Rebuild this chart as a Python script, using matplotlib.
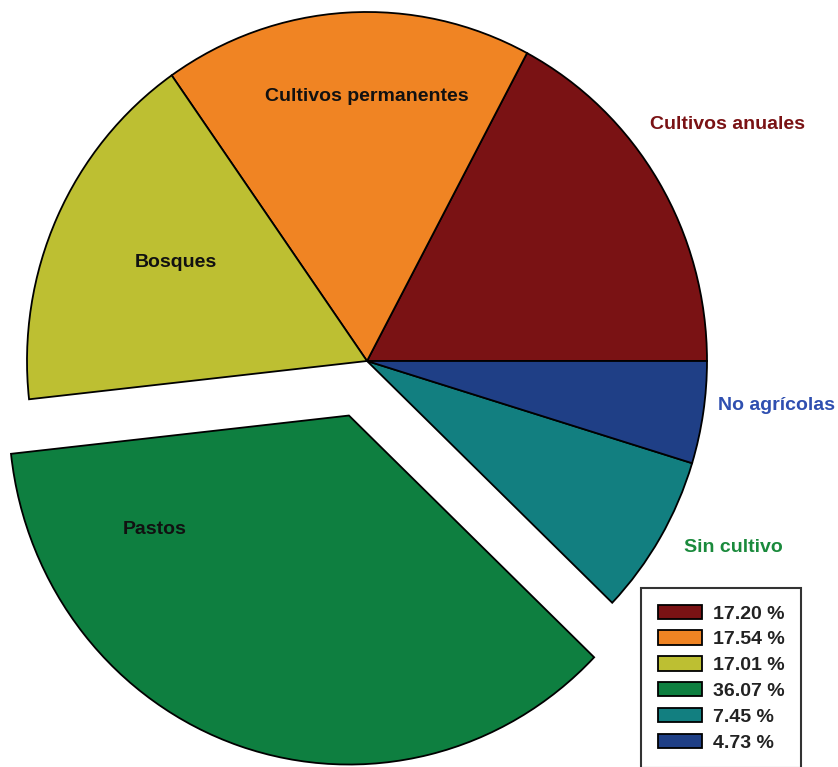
import matplotlib
matplotlib.use("Agg")
import matplotlib.pyplot as plt

categories = ["Cultivos anuales", "Cultivos permanentes", "Bosques", "Pastos", "Sin cultivo", "No agrícolas"]
shares = [17.20, 17.54, 17.01, 36.07, 7.45, 4.73]
colors = ["#7a1214", "#f08423", "#bdbf32", "#0e7f40", "#127f80", "#1f3f86"]
explode = [0, 0, 0, 0.165, 0, 0]
legend_labels = ["17.20 %", "17.54 %", "17.01 %", "36.07 %", "7.45 %", "4.73 %"]

plt.rcParams['font.family'] = ['Liberation Sans', 'DejaVu Sans']

W, H = 838, 767
cx, cy = 367, 361      # pie centre in pixels
rx, ry = 340, 349      # pixel radii (source image is a bit stretched vertically)

fig = plt.figure(figsize=(W / 100, H / 100), dpi=100)
ax = fig.add_axes([0, 0, 1, 1])

wedges, _ = ax.pie(shares, colors=colors, explode=explode, startangle=0,
                   counterclock=True,
                   wedgeprops=dict(edgecolor="black", linewidth=1.3))

ax.set_aspect("auto")
ax.set_xlim(-cx / rx, (W - cx) / rx)
ax.set_ylim((cy - H) / ry, cy / ry)
ax.axis("off")


def px(x, y):
    return (x - cx) / rx, (cy - y) / ry


# label positions in pixels, label colours
label_pos = [(727, 125), (367, 97), (176, 263), (155, 530), (733, 547), (777, 406)]
label_col = ["#7a1214", "#111111", "#111111", "#111111", "#1a8a3c", "#2f4fb0"]
for name, (x, y), c in zip(categories, label_pos, label_col):
    ax.text(*px(x, y), name, ha="center", va="center", fontsize=14,
            fontweight="bold", color=c)

leg = ax.legend(wedges, legend_labels, loc="upper left",
                bbox_to_anchor=(641 / W, 1 - 588 / H), bbox_transform=fig.transFigure,
                frameon=True, fancybox=False, fontsize=14, handlelength=2.3,
                handleheight=0.77, handletextpad=0.55, labelspacing=0.4,
                borderpad=0.85, borderaxespad=0)
leg.get_frame().set_edgecolor("black")
leg.get_frame().set_linewidth(1.5)
for t in leg.get_texts():
    t.set_fontweight("bold")
    t.set_color("#222222")

fig.savefig("out.png", dpi=100)
